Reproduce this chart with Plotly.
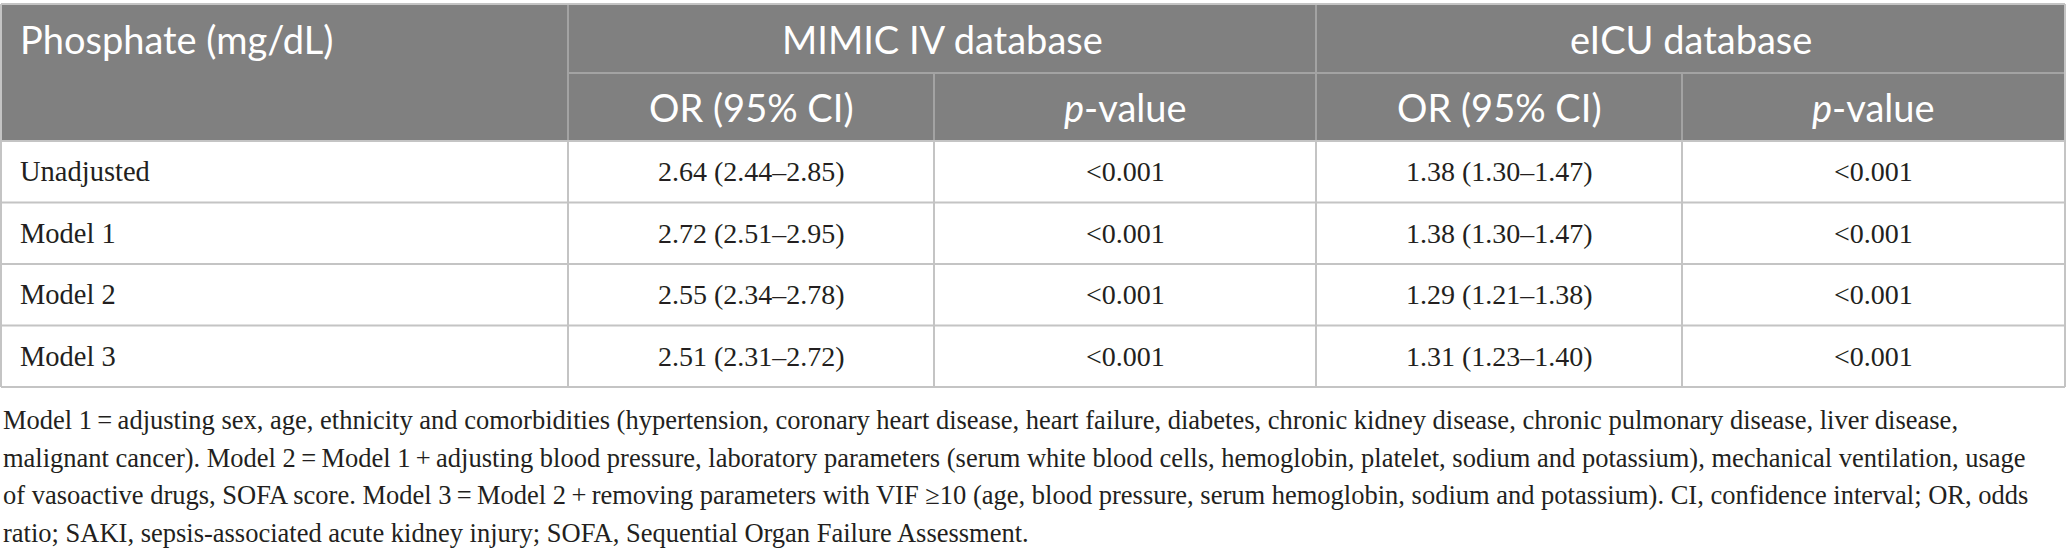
import plotly.graph_objects as go

# table content
row_header = "Phosphate (mg/dL)"
groups = ["MIMIC IV database", "eICU database"]
sub_headers = ["OR (95% CI)", "<i>p</i>-value"]
models = ["Unadjusted", "Model 1", "Model 2", "Model 3"]
mimic_or = ["2.64 (2.44–2.85)", "2.72 (2.51–2.95)", "2.55 (2.34–2.78)", "2.51 (2.31–2.72)"]
mimic_p = ["<0.001", "<0.001", "<0.001", "<0.001"]
eicu_or = ["1.38 (1.30–1.47)", "1.38 (1.30–1.47)", "1.29 (1.21–1.38)", "1.31 (1.23–1.40)"]
eicu_p = ["<0.001", "<0.001", "<0.001", "<0.001"]
footnote = [
    "Model 1\u2009=\u2009adjusting sex, age, ethnicity and comorbidities (hypertension, coronary heart disease, heart failure, diabetes, chronic kidney disease, chronic pulmonary disease, liver disease,",
    "malignant cancer). Model 2\u2009=\u2009Model 1\u2009+\u2009adjusting blood pressure, laboratory parameters (serum white blood cells, hemoglobin, platelet, sodium and potassium), mechanical ventilation, usage",
    "of vasoactive drugs, SOFA score. Model 3\u2009=\u2009Model 2\u2009+\u2009removing parameters with VIF \u226510 (age, blood pressure, serum hemoglobin, sodium and potassium). CI, confidence interval; OR, odds",
    "ratio; SAKI, sepsis-associated acute kidney injury; SOFA, Sequential Organ Failure Assessment.",
]

W, H = 2067, 551
col_x = [1, 568, 934, 1316, 1682, 2065]
top, h1, h2 = 4, 73, 141
row_h = 61.5
bottom = h2 + row_h * len(models)

HEAD_FILL = "#808080"
GRID = "#c4c4c4"
HEAD_GRID = "#a3a3a3"
TXT = "#231f20"
SANS = "Lato, 'Open Sans', sans-serif"
SERIF = "'Liberation Serif', 'Times New Roman', serif"

fig = go.Figure()
shapes = []
annos = []


def line(x0, y0, x1, y1, color=GRID):
    shapes.append(dict(type="line", xref="x", yref="y", x0=x0, y0=y0, x1=x1, y1=y1,
                       line=dict(color=color, width=2), layer="above"))


def text(x, y, s, font, size, color, anchor="center"):
    annos.append(dict(x=x, y=y, xref="x", yref="y", text=s, showarrow=False,
                      xanchor=anchor, yanchor="middle",
                      font=dict(family=font, size=size, color=color)))


# header block
shapes.append(dict(type="rect", xref="x", yref="y", x0=col_x[0], x1=col_x[-1], y0=top, y1=h2,
                   fillcolor=HEAD_FILL, line=dict(width=0), layer="below"))

# header lines
line(col_x[1], h1, col_x[-1], h1, HEAD_GRID)
line(col_x[1], top, col_x[1], h2, HEAD_GRID)
line(col_x[3], top, col_x[3], h2, HEAD_GRID)
line(col_x[2], h1, col_x[2], h2, HEAD_GRID)
line(col_x[4], h1, col_x[4], h2, HEAD_GRID)

# body grid
for i in range(len(models) + 1):
    y = h2 + row_h * i
    line(col_x[0], y, col_x[-1], y)
for x in col_x:
    line(x, h2, x, bottom)
line(col_x[0], top, col_x[-1], top)
line(col_x[0], top, col_x[0], h2)
line(col_x[-1], top, col_x[-1], h2)

# header text
text(col_x[0] + 17, (top + h1) / 2, row_header, SANS, 38, "white", "left")
for g, name in enumerate(groups):
    text((col_x[1 + 2 * g] + col_x[3 + 2 * g]) / 2, (top + h1) / 2, name, SANS, 38, "white")
    for k, sh in enumerate(sub_headers):
        c = 1 + 2 * g + k
        text((col_x[c] + col_x[c + 1]) / 2, (h1 + h2) / 2, sh, SANS, 38, "white")

# body text
columns = [mimic_or, mimic_p, eicu_or, eicu_p]
for r, m in enumerate(models):
    yc = h2 + row_h * (r + 0.5)
    text(col_x[0] + 17, yc, m, SERIF, 28.5, TXT, "left")
    for c, vals in enumerate(columns):
        text((col_x[c + 1] + col_x[c + 2]) / 2, yc, vals[r].replace("<", "&lt;"), SERIF, 28, TXT)

# footnote
for i, ln in enumerate(footnote):
    text(0.5, 420 + 37.5 * i, ln, SERIF, 26.5, TXT, "left")

fig.update_layout(
    width=W, height=H,
    margin=dict(l=0, r=0, t=0, b=0),
    paper_bgcolor="white", plot_bgcolor="white",
    xaxis=dict(range=[0, W], visible=False, fixedrange=True),
    yaxis=dict(range=[H, 0], visible=False, fixedrange=True),
    shapes=shapes, annotations=annos,
    showlegend=False,
)
fig.write_html("out.html", config={"displayModeBar": False},
               post_script="document.body.style.margin='0';document.body.style.overflow='hidden';")
